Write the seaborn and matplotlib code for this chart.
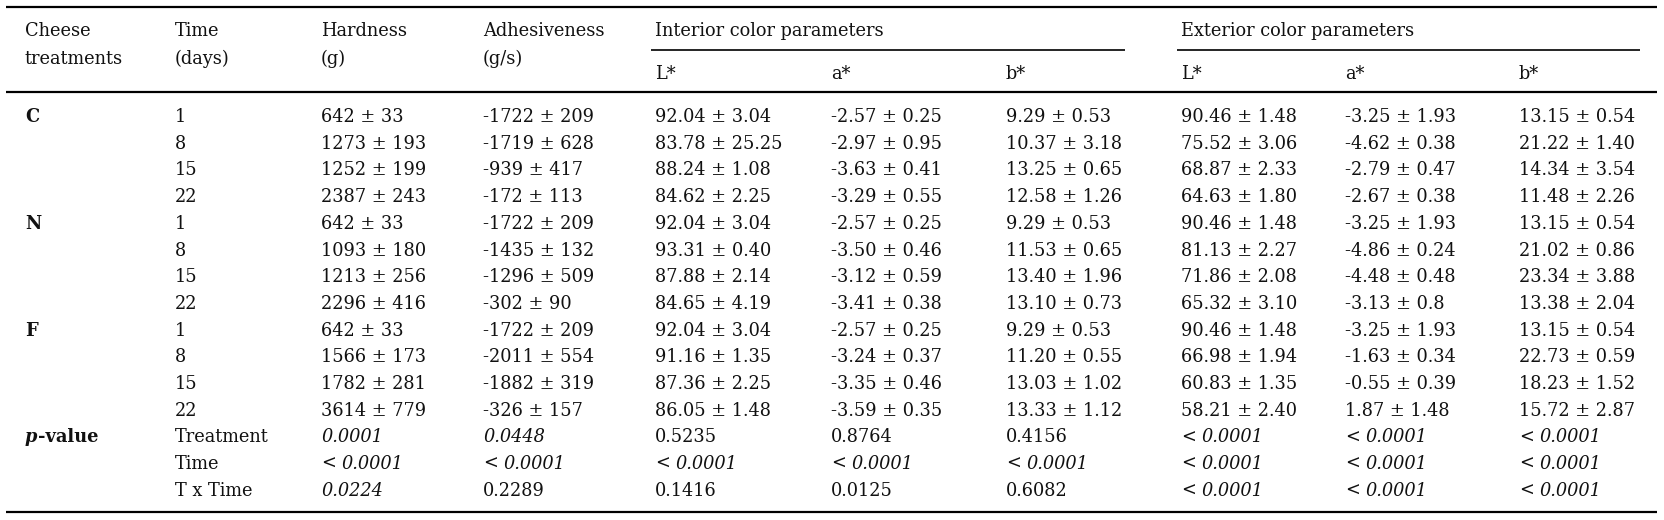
import matplotlib
matplotlib.use("Agg")
import matplotlib.pyplot as plt
import seaborn as sns

# table content
treatments = ["C", "N", "F"]
days = ["1", "8", "15", "22"]

hardness = ["642 ± 33", "1273 ± 193", "1252 ± 199", "2387 ± 243",
            "642 ± 33", "1093 ± 180", "1213 ± 256", "2296 ± 416",
            "642 ± 33", "1566 ± 173", "1782 ± 281", "3614 ± 779"]
adhesiveness = ["-1722 ± 209", "-1719 ± 628", "-939 ± 417", "-172 ± 113",
                "-1722 ± 209", "-1435 ± 132", "-1296 ± 509", "-302 ± 90",
                "-1722 ± 209", "-2011 ± 554", "-1882 ± 319", "-326 ± 157"]
int_L = ["92.04 ± 3.04", "83.78 ± 25.25", "88.24 ± 1.08", "84.62 ± 2.25",
         "92.04 ± 3.04", "93.31 ± 0.40", "87.88 ± 2.14", "84.65 ± 4.19",
         "92.04 ± 3.04", "91.16 ± 1.35", "87.36 ± 2.25", "86.05 ± 1.48"]
int_a = ["-2.57 ± 0.25", "-2.97 ± 0.95", "-3.63 ± 0.41", "-3.29 ± 0.55",
         "-2.57 ± 0.25", "-3.50 ± 0.46", "-3.12 ± 0.59", "-3.41 ± 0.38",
         "-2.57 ± 0.25", "-3.24 ± 0.37", "-3.35 ± 0.46", "-3.59 ± 0.35"]
int_b = ["9.29 ± 0.53", "10.37 ± 3.18", "13.25 ± 0.65", "12.58 ± 1.26",
         "9.29 ± 0.53", "11.53 ± 0.65", "13.40 ± 1.96", "13.10 ± 0.73",
         "9.29 ± 0.53", "11.20 ± 0.55", "13.03 ± 1.02", "13.33 ± 1.12"]
ext_L = ["90.46 ± 1.48", "75.52 ± 3.06", "68.87 ± 2.33", "64.63 ± 1.80",
         "90.46 ± 1.48", "81.13 ± 2.27", "71.86 ± 2.08", "65.32 ± 3.10",
         "90.46 ± 1.48", "66.98 ± 1.94", "60.83 ± 1.35", "58.21 ± 2.40"]
ext_a = ["-3.25 ± 1.93", "-4.62 ± 0.38", "-2.79 ± 0.47", "-2.67 ± 0.38",
         "-3.25 ± 1.93", "-4.86 ± 0.24", "-4.48 ± 0.48", "-3.13 ± 0.8",
         "-3.25 ± 1.93", "-1.63 ± 0.34", "-0.55 ± 0.39", "1.87 ± 1.48"]
ext_b = ["13.15 ± 0.54", "21.22 ± 1.40", "14.34 ± 3.54", "11.48 ± 2.26",
         "13.15 ± 0.54", "21.02 ± 0.86", "23.34 ± 3.88", "13.38 ± 2.04",
         "13.15 ± 0.54", "22.73 ± 0.59", "18.23 ± 1.52", "15.72 ± 2.87"]

p_sources = ["Treatment", "Time", "T x Time"]
# p-values per measured column (hardness ... ext b*), one list per source
p_treatment = ["0.0001", "0.0448", "0.5235", "0.8764", "0.4156", "< 0.0001", "< 0.0001", "< 0.0001"]
p_time = ["< 0.0001"] * 8
p_interaction = ["0.0224", "0.2289", "0.1416", "0.0125", "0.6082", "< 0.0001", "< 0.0001", "< 0.0001"]
p_treatment_it = [True, True, False, False, False, True, True, True]
p_time_it = [True] * 8
p_interaction_it = [True, False, False, False, False, True, True, True]

header_top = ["Cheese", "Time", "Hardness", "Adhesiveness"]
header_bottom = ["treatments", "(days)", "(g)", "(g/s)"]
group_labels = ["Interior color parameters", "Exterior color parameters"]
sub_labels = ["L*", "a*", "b*"]

# layout (pixels)
W, H = 1664, 520
col_x = [25, 175, 321, 483, 655, 831, 1006, 1181, 1345, 1519]
row_y0, row_dy = 115, 26.7
FS = 12.8

sns.set_theme(style="white")
plt.rcParams["font.family"] = ["DejaVu Serif"]

fig = plt.figure(figsize=(W / 100, H / 100), dpi=100)
ax = fig.add_axes([0, 0, 1, 1])
ax.set_xlim(0, W)
ax.set_ylim(H, 0)
ax.axis("off")

txt = dict(fontsize=FS, color="#111111", va="center_baseline", ha="left")

# rules
ax.hlines([7, 92, 512], 6, 1657, color="black", lw=1.6)
ax.hlines([50, 50], [651, 1177], [1125, 1640], color="black", lw=1.2)

# header
for x, a, b in zip(col_x[:4], header_top, header_bottom):
    ax.text(x, 29, a, **txt)
    ax.text(x, 57, b, **txt)
for x, lab in zip([col_x[4], col_x[7]], group_labels):
    ax.text(x, 29, lab, **txt)
for x, lab in zip(col_x[4:], sub_labels * 2):
    ax.text(x, 72, lab, **txt)

# body
columns = [hardness, adhesiveness, int_L, int_a, int_b, ext_L, ext_a, ext_b]
for i, tr in enumerate(treatments):
    y = row_y0 + 4 * i * row_dy
    ax.text(col_x[0], y, tr, fontweight="bold", **txt)
    for j, d in enumerate(days):
        r = 4 * i + j
        yy = row_y0 + r * row_dy
        ax.text(col_x[1], yy, d, **txt)
        for x, col in zip(col_x[2:], columns):
            ax.text(x, yy, col[r], **txt)

# p-value block
fig.canvas.draw()
renderer = fig.canvas.get_renderer()
y_p = row_y0 + 12 * row_dy
tp = ax.text(col_x[0], y_p, "p", fontweight="bold", fontstyle="italic", **txt)
bb = tp.get_window_extent(renderer=renderer)
ax.text(bb.x1 + 1, y_p, "-value", fontweight="bold", **txt)

p_rows = [(p_treatment, p_treatment_it), (p_time, p_time_it), (p_interaction, p_interaction_it)]
for k, (src, (vals, its)) in enumerate(zip(p_sources, p_rows)):
    yy = y_p + k * row_dy
    ax.text(col_x[1], yy, src, **txt)
    for x, v, it in zip(col_x[2:], vals, its):
        style = "italic" if it else "normal"
        if v.startswith("<"):
            lt = ax.text(x, yy, "<", **txt)
            lb = lt.get_window_extent(renderer=renderer)
            ax.text(lb.x1 + 6, yy, v[1:].strip(), fontstyle=style, **txt)
        else:
            ax.text(x, yy, v, fontstyle=style, **txt)

fig.savefig("out.png", dpi=100, facecolor="white")
